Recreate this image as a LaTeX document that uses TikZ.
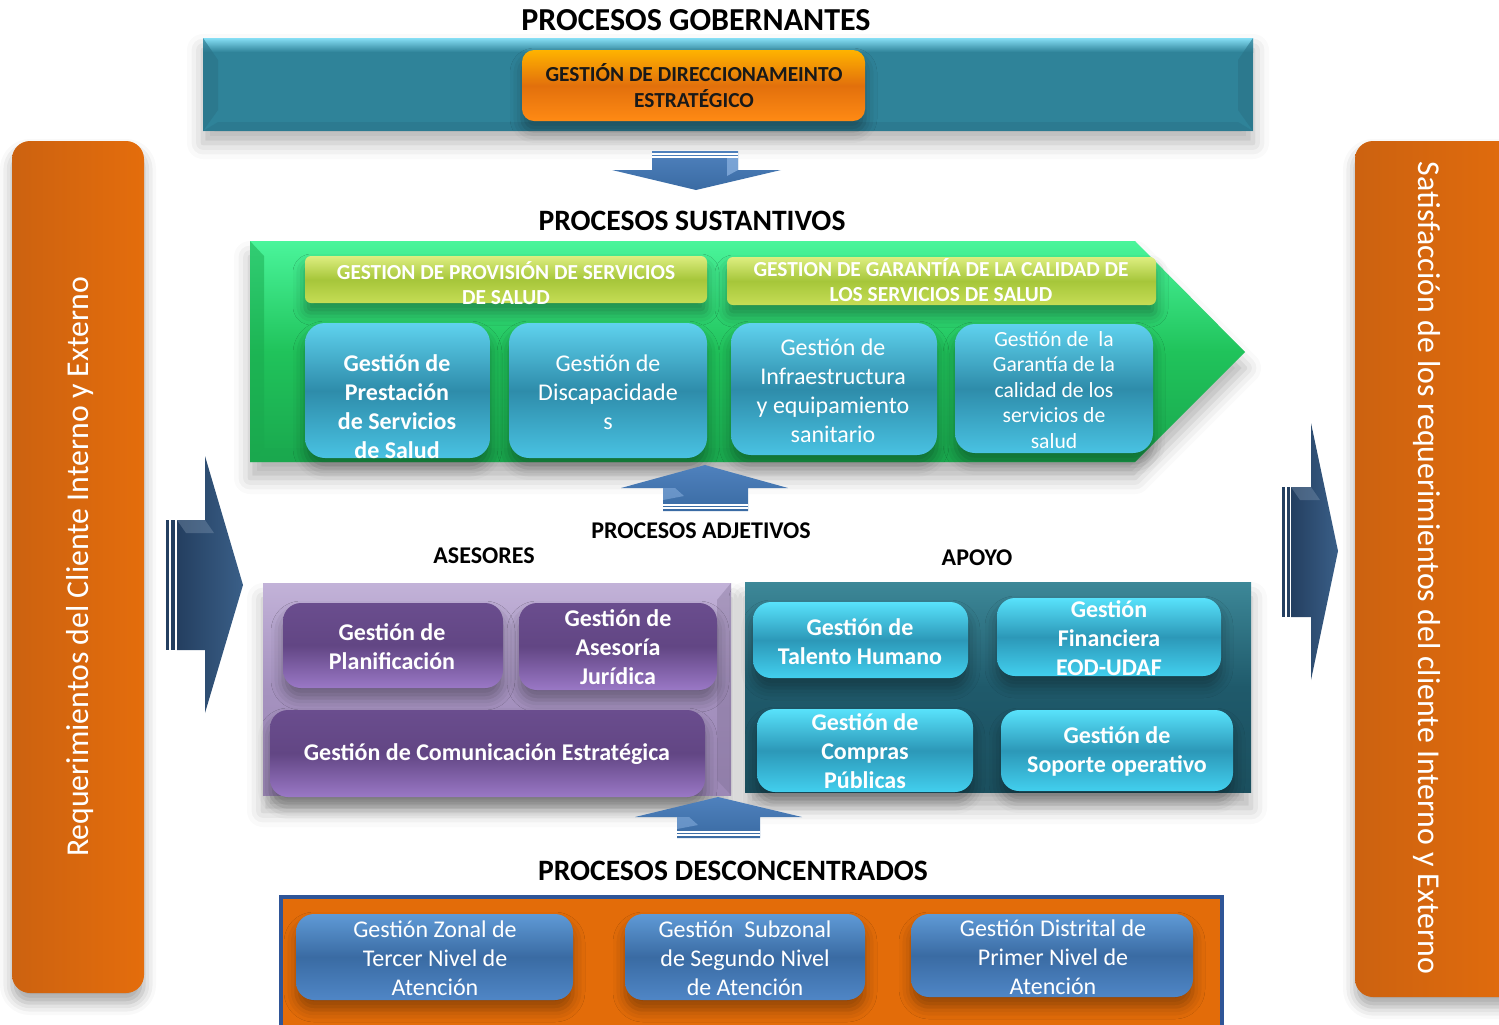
\documentclass[tikz,border=0pt]{standalone}
\usepackage{fontspec}
\setmainfont{Carlito}
\usetikzlibrary{shadows.blur}
\definecolor{tealT}{HTML}{86DFF5}\definecolor{tealM}{HTML}{2F8399}\definecolor{tealB}{HTML}{2A7388}
\definecolor{orT}{HTML}{FFB300}\definecolor{orM}{HTML}{E2700C}\definecolor{orB}{HTML}{FF8A14}
\definecolor{barL}{HTML}{CC6210}\definecolor{barR}{HTML}{E46D0C}
\definecolor{grT}{HTML}{4AF59B}\definecolor{grM}{HTML}{20C35B}\definecolor{grB}{HTML}{1AA84E}
\definecolor{ygT}{HTML}{DDEE80}\definecolor{ygM}{HTML}{A6C63A}\definecolor{ygB}{HTML}{C5DD55}
\definecolor{cyT}{HTML}{5FD2EE}\definecolor{cyM}{HTML}{2E8CAA}\definecolor{cyB}{HTML}{49C2E2}
\definecolor{ppT}{HTML}{C2B2D8}\definecolor{ppM}{HTML}{A592BF}\definecolor{ppB}{HTML}{9C88B6}
\definecolor{puT}{HTML}{6A4D8E}\definecolor{puM}{HTML}{624684}\definecolor{puB}{HTML}{9A78C6}
\definecolor{dkT}{HTML}{3D8898}\definecolor{dkM}{HTML}{1F5A6B}\definecolor{dkB}{HTML}{1B4F5E}
\definecolor{cz2T}{HTML}{58E2FB}\definecolor{cz2M}{HTML}{2C98B8}\definecolor{cz2B}{HTML}{42CFEE}
\definecolor{bOr}{HTML}{E36C09}\definecolor{bBorder}{HTML}{2F5597}
\definecolor{blT}{HTML}{5F9AD6}\definecolor{blM}{HTML}{3A6BA3}\definecolor{blB}{HTML}{4F86C6}
\definecolor{arrT}{HTML}{8FB5E3}\definecolor{arrM}{HTML}{4F81BD}\definecolor{arrB}{HTML}{3A6BA3}
\definecolor{navy}{HTML}{243F60}\definecolor{navyL}{HTML}{3A5F88}
\newcommand\pbox[6]{\node[#1,minimum width={(#5-#3)*0.5pt},minimum height={(#6-#4)*0.5pt}] (#2) at ({(#3+#5)/2},{(#4+#6)/2}) {};}
\begin{document}
\begin{tikzpicture}[x=0.5pt,y=-0.5pt,
  shbox/.style={blur shadow={shadow xshift=0pt,shadow yshift=-5pt,shadow blur radius=6pt,shadow opacity=35}},
  ttl/.style={font=\fontsize{14.8}{17}\selectfont\bfseries,text=black,inner sep=0},
  sub/.style={font=\fontsize{12}{14}\selectfont\bfseries,text=black,inner sep=0},
  obox/.style={rounded corners=6pt,inner sep=0,top color=orT,bottom color=orB,middle color=orM,shbox},
  ygbox/.style={rounded corners=3pt,inner sep=0,top color=ygT,bottom color=ygB,middle color=ygM,shbox},
  cybox/.style={rounded corners=10pt,inner sep=0,top color=cyT,bottom color=cyB,middle color=cyM,shbox},
  pubox/.style={rounded corners=9pt,inner sep=0,top color=puT,bottom color=puB,middle color=puM,shbox},
  cz/.style={rounded corners=9pt,inner sep=0,top color=cz2T,bottom color=cz2B,middle color=cz2M,shbox},
  blbox/.style={rounded corners=9pt,inner sep=0,top color=blT,bottom color=blB,middle color=blM,shbox},
  wt/.style={text=white,align=center,inner sep=0},
  hdr/.style={wt,font=\fontsize{10.7}{12.5}\selectfont\bfseries},
  bt/.style={wt,font=\fontsize{12}{14.5}\selectfont\bfseries},
  nt/.style={wt,font=\fontsize{12}{14.5}\selectfont},
  st/.style={wt,font=\fontsize{10.8}{12.75}\selectfont},
  side/.style={text=white,inner sep=0,font=\fontsize{15.9}{18}\selectfont}
]
\useasboundingbox (0,0) rectangle (1499,1024);
\clip (0,0) rectangle (1499,1024);

% side bars
\node[rounded corners=9pt,left color=barL,right color=barR,shbox,minimum width=66pt,minimum height=426pt,inner sep=0] (lbar) at (78,567) {};
\node[side,rotate=90] (ltext) at (80,567) {Requerimientos del Cliente Interno y Externo};
\node[rounded corners=9pt,left color=barL,right color=barR,shbox,minimum width=90pt,minimum height=428pt,inner sep=0] (rbar) at (1445,569) {};
\node[side,rotate=-90] (rtext) at (1427,568) {Satisfacción de los requerimientos del cliente Interno y Externo};

% side arrows
\fill[navy] (166,520) rectangle (169,650);
\fill[navy] (171,520) rectangle (175,650);
\shade[left color=navy,right color=navyL] (177,520) -- (205,520) -- (205,456) -- (243,585) -- (205,713) -- (205,650) -- (177,650) -- cycle;
\fill[navyL!60!white,opacity=0.35] (177,520) -- (205,520) -- (214,533) -- (186,533) -- cycle;
\fill[navy] (1282,487) rectangle (1285,617);
\fill[navy] (1287,487) rectangle (1290,617);
\shade[left color=navy,right color=navyL] (1291,487) -- (1311,487) -- (1311,423) -- (1338,551) -- (1311,680) -- (1311,617) -- (1291,617) -- cycle;
\fill[navyL!60!white,opacity=0.35] (1291,487) -- (1311,487) -- (1320,500) -- (1300,500) -- cycle;

% governing
\node[ttl,font=\fontsize{16}{18}\selectfont\bfseries] (tgob) at (696,20) {PROCESOS GOBERNANTES};
\fill[tealM,blur shadow={shadow xshift=0pt,shadow yshift=-6pt,shadow blur radius=8pt,shadow opacity=30}] (203,38) rectangle (1253,131);
\shade[top color=tealT,bottom color=tealM] (203,38) rectangle (1253,52);
\fill[tealB,opacity=0.6] (203,38) -- (218,60) -- (218,110) -- (203,131) -- cycle;
\fill[tealB,opacity=0.6] (1253,38) -- (1238,60) -- (1238,110) -- (1253,131) -- cycle;
\fill[tealB,opacity=0.5] (203,131) -- (218,122) -- (1238,122) -- (1253,131) -- cycle;
\pbox{obox}{gde}{522}{50}{865}{121}
\node[font=\fontsize{10.7}{13}\selectfont\bfseries,text=black!90,align=center,inner sep=0] (gdet) at (694,86) {GESTIÓN DE DIRECCIONAMEINTO\\ESTRATÉGICO};

% down arrow
\shade[top color=arrM,bottom color=arrB] (652,151) -- (738,151) -- (738,170) -- (781,170) -- (696,190) -- (612,170) -- (652,170) -- cycle;
\draw[white,line width=0.8pt] (652,154) -- (738,154) (652,157) -- (738,157);
\fill[arrT,opacity=0.7] (727,158) -- (738,158) -- (738,170) -- (727,176) -- cycle;

% substantive
\node[ttl] (tsus) at (692,221) {PROCESOS SUSTANTIVOS};
\shade[top color=grT,bottom color=grB,middle color=grM,blur shadow={shadow xshift=0pt,shadow yshift=-8pt,shadow blur radius=8pt,shadow opacity=30}]
  (250,241) -- (1135,241) -- (1245,352) -- (1135,462) -- (250,462) -- cycle;
\fill[grB,opacity=0.5] (250,241) -- (264,256) -- (264,448) -- (250,462) -- cycle;
\fill[grB,opacity=0.4] (250,462) -- (264,448) -- (1128,448) -- (1135,462) -- cycle;
\pbox{ygbox}{h1}{305}{256}{707}{303}
\node[hdr] (h1t) at (506,283.5) {GESTION DE PROVISIÓN DE SERVICIOS\\DE SALUD};
\pbox{ygbox}{h2}{727}{257}{1156}{305}
\node[hdr] (h2t) at (941,280.5) {GESTION DE GARANTÍA DE LA CALIDAD DE\\LOS SERVICIOS DE SALUD};
\pbox{cybox}{b1}{305}{323}{490}{458}
\node[bt] (b1t) at (397,406.5) {Gestión de\\Prestación\\de Servicios\\de Salud};
\pbox{cybox}{b2}{509}{323}{707}{458}
\node[nt] (b2t) at (608,392) {Gestión de\\Discapacidade\\s};
\pbox{cybox}{b3}{731}{323}{937}{455}
\node[nt] (b3t) at (833,391) {Gestión de\\Infraestructura\\y equipamiento\\sanitario};
\pbox{cybox}{b4}{955}{324}{1153}{453}
\node[st] (b4t) at (1054,390) {Gestión de\ \ la\\Garantía de la\\calidad de los\\servicios de\\salud};

% up arrow 1
\shade[top color=arrM,bottom color=arrB] (705,465) -- (788,488) -- (748,488) -- (748,511) -- (663,511) -- (663,488) -- (621,488) -- cycle;
\draw[white,line width=0.8pt] (663,505) -- (748,505) (663,508) -- (748,508);
\fill[arrT,opacity=0.5] (663,488) -- (675,488) -- (684,496) -- (663,500) -- cycle;

% adjective
\node[sub] (tadj) at (701,531) {PROCESOS ADJETIVOS};
\node[sub] (tase) at (484,556) {ASESORES};
\node[sub] (tapo) at (977,558) {APOYO};

\shade[top color=ppT,bottom color=ppB,middle color=ppM,blur shadow={shadow xshift=0pt,shadow yshift=-8pt,shadow blur radius=8pt,shadow opacity=30}] (263,583) rectangle (731,795);
\fill[ppB!80!black,opacity=0.35] (731,583) -- (717,600) -- (717,780) -- (731,795) -- cycle;
\pbox{pubox}{p1}{283}{603}{503}{688}
\node[bt] (p1t) at (392,646.5) {Gestión de\\Planificación};
\pbox{pubox}{p2}{519}{603}{717}{690}
\node[bt] (p2t) at (618,647) {Gestión de\\Asesoría\\Jurídica};
\pbox{pubox}{p3}{270}{710}{705}{797}
\node[bt] (p3t) at (487,754) {Gestión de Comunicación Estratégica};

\shade[top color=dkT,bottom color=dkB,middle color=dkM,blur shadow={shadow xshift=0pt,shadow yshift=-8pt,shadow blur radius=8pt,shadow opacity=30}] (745,582) rectangle (1251,792);
\pbox{cz}{t1}{753}{602}{968}{678}
\node[bt] (t1t) at (860,641.5) {Gestión de\\Talento Humano};
\pbox{cz}{t2}{997}{598}{1221}{676}
\node[bt] (t2t) at (1109,638) {Gestión\\Financiera\\EOD-UDAF};
\pbox{cz}{t3}{757}{709}{973}{792}
\node[bt] (t3t) at (865,751.5) {Gestión de\\Compras\\Públicas};
\pbox{cz}{t4}{1001}{710}{1233}{791}
\node[bt] (t4t) at (1117,751.5) {Gestión de\\Soporte operativo};

% up arrow 2
\shade[top color=arrM,bottom color=arrB] (718,797) -- (802,817) -- (760,817) -- (760,838) -- (677,838) -- (677,817) -- (635,817) -- cycle;
\draw[white,line width=0.8pt] (677,832) -- (760,832) (677,835) -- (760,835);
\fill[arrT,opacity=0.5] (677,817) -- (689,817) -- (698,825) -- (677,829) -- cycle;

% deconcentrated
\node[ttl] (tdes) at (733,871) {PROCESOS DESCONCENTRADOS};
\draw[bBorder,line width=2pt,fill=bOr] (281,897) rectangle (1222,1040);
\pbox{blbox}{o1}{296}{914}{573}{1000}
\node[nt] (o1t) at (435,958.5) {Gestión Zonal de\\Tercer Nivel de\\Atención};
\pbox{blbox}{o2}{625}{914}{865}{1000}
\node[nt] (o2t) at (745,958) {Gestión\ \ Subzonal\\de Segundo Nivel\\de Atención};
\pbox{blbox}{o3}{911}{914}{1193}{997}
\node[nt] (o3t) at (1053,957.5) {Gestión Distrital de\\Primer Nivel de\\Atención};
\end{tikzpicture}
\end{document}
